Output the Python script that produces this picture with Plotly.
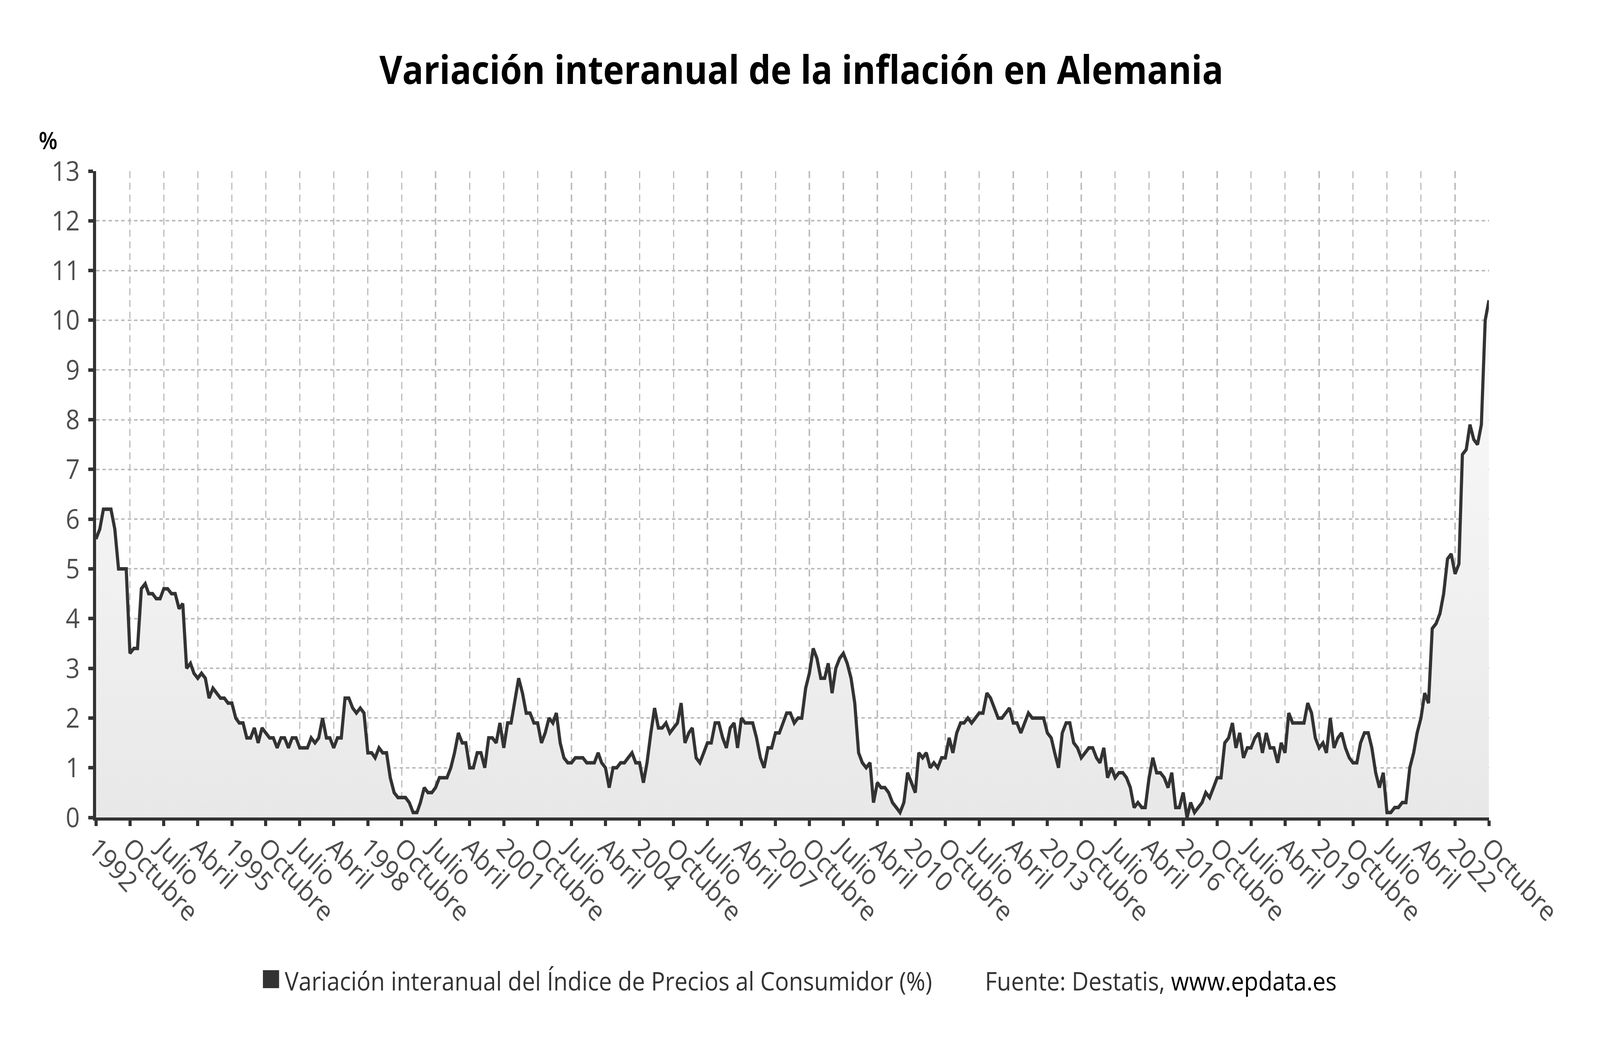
import pandas as pd
import plotly.graph_objects as go

# monthly year-on-year CPI change in Germany, Jan 1992 - Oct 2022 (%)
inflation = [
    5.6, 5.8, 6.2, 6.2, 6.2, 5.8, 5.0, 5.0, 5.0, 3.3, 3.4, 3.4,   # 1992
    4.6, 4.7, 4.5, 4.5, 4.4, 4.4, 4.6, 4.6, 4.5, 4.5, 4.2, 4.3,   # 1993
    3.0, 3.1, 2.9, 2.8, 2.9, 2.8, 2.4, 2.6, 2.5, 2.4, 2.4, 2.3,   # 1994
    2.3, 2.0, 1.9, 1.9, 1.6, 1.6, 1.8, 1.5, 1.8, 1.7, 1.6, 1.6,   # 1995
    1.4, 1.6, 1.6, 1.4, 1.6, 1.6, 1.4, 1.4, 1.4, 1.6, 1.5, 1.6,   # 1996
    2.0, 1.6, 1.6, 1.4, 1.6, 1.6, 2.4, 2.4, 2.2, 2.1, 2.2, 2.1,   # 1997
    1.3, 1.3, 1.2, 1.4, 1.3, 1.3, 0.8, 0.5, 0.4, 0.4, 0.4, 0.3,   # 1998
    0.1, 0.1, 0.3, 0.6, 0.5, 0.5, 0.6, 0.8, 0.8, 0.8, 1.0, 1.3,   # 1999
    1.7, 1.5, 1.5, 1.0, 1.0, 1.3, 1.3, 1.0, 1.6, 1.6, 1.5, 1.9,   # 2000
    1.4, 1.9, 1.9, 2.4, 2.8, 2.5, 2.1, 2.1, 1.9, 1.9, 1.5, 1.7,   # 2001
    2.0, 1.9, 2.1, 1.5, 1.2, 1.1, 1.1, 1.2, 1.2, 1.2, 1.1, 1.1,   # 2002
    1.1, 1.3, 1.1, 1.0, 0.6, 1.0, 1.0, 1.1, 1.1, 1.2, 1.3, 1.1,   # 2003
    1.1, 0.7, 1.1, 1.7, 2.2, 1.8, 1.8, 1.9, 1.7, 1.8, 1.9, 2.3,   # 2004
    1.5, 1.7, 1.8, 1.2, 1.1, 1.3, 1.5, 1.5, 1.9, 1.9, 1.6, 1.4,   # 2005
    1.8, 1.9, 1.4, 2.0, 1.9, 1.9, 1.9, 1.6, 1.2, 1.0, 1.4, 1.4,   # 2006
    1.7, 1.7, 1.9, 2.1, 2.1, 1.9, 2.0, 2.0, 2.6, 2.9, 3.4, 3.2,   # 2007
    2.8, 2.8, 3.1, 2.5, 3.0, 3.2, 3.3, 3.1, 2.8, 2.3, 1.3, 1.1,   # 2008
    1.0, 1.1, 0.3, 0.7, 0.6, 0.6, 0.5, 0.3, 0.2, 0.1, 0.3, 0.9,   # 2009
    0.7, 0.5, 1.3, 1.2, 1.3, 1.0, 1.1, 1.0, 1.2, 1.2, 1.6, 1.3,   # 2010
    1.7, 1.9, 1.9, 2.0, 1.9, 2.0, 2.1, 2.1, 2.5, 2.4, 2.2, 2.0,   # 2011
    2.0, 2.1, 2.2, 1.9, 1.9, 1.7, 1.9, 2.1, 2.0, 2.0, 2.0, 2.0,   # 2012
    1.7, 1.6, 1.3, 1.0, 1.7, 1.9, 1.9, 1.5, 1.4, 1.2, 1.3, 1.4,   # 2013
    1.4, 1.2, 1.1, 1.4, 0.8, 1.0, 0.8, 0.9, 0.9, 0.8, 0.6, 0.2,   # 2014
    0.3, 0.2, 0.2, 0.8, 1.2, 0.9, 0.9, 0.8, 0.6, 0.9, 0.2, 0.2,   # 2015
    0.5, 0.0, 0.3, 0.1, 0.2, 0.3, 0.5, 0.4, 0.6, 0.8, 0.8, 1.5,   # 2016
    1.6, 1.9, 1.4, 1.7, 1.2, 1.4, 1.4, 1.6, 1.7, 1.3, 1.7, 1.4,   # 2017
    1.4, 1.1, 1.5, 1.3, 2.1, 1.9, 1.9, 1.9, 1.9, 2.3, 2.1, 1.6,   # 2018
    1.4, 1.5, 1.3, 2.0, 1.4, 1.6, 1.7, 1.4, 1.2, 1.1, 1.1, 1.5,   # 2019
    1.7, 1.7, 1.4, 0.9, 0.6, 0.9, 0.1, 0.1, 0.2, 0.2, 0.3, 0.3,   # 2020
    1.0, 1.3, 1.7, 2.0, 2.5, 2.3, 3.8, 3.9, 4.1, 4.5, 5.2, 5.3,   # 2021
    4.9, 5.1, 7.3, 7.4, 7.9, 7.6, 7.5, 7.9, 10.0, 10.4,           # 2022
]
months = pd.date_range("1992-01-01", periods=len(inflation), freq="MS")

# axis ticks every 9 months
tick_dates = pd.date_range("1992-01-01", "2022-10-01", freq="9MS")
month_names = {4: "Abril", 7: "Julio", 10: "Octubre"}
tick_labels = [str(d.year) if d.month == 1 else month_names[d.month] for d in tick_dates]

title = "Variación interanual de la inflación en Alemania"
series_name = "Variación interanual del Índice de Precios al Consumidor (%)"
source = "Fuente: Destatis, <span style='color:#000'>www.epdata.es</span>"

W, H = 4552, 2673
L, R, T, B = 273, 4236, 438, 2093  # plot area in pixels


def px(x):
    return (x - L) / (R - L)


def py(y):
    return (B - y) / (B - T)


fig = go.Figure()
fig.add_trace(go.Scatter(
    x=months, y=inflation, mode="lines", name=series_name,
    line=dict(color="#333333", width=9),
    fill="tozeroy",
    fillgradient=dict(type="vertical", colorscale=[[0, "#e8e8e8"], [1, "#fbfbfb"]]),
    showlegend=False,
))

axis_common = dict(
    showline=True, linecolor="#333333", linewidth=8,
    ticks="outside", tickcolor="#333333", tickwidth=9,
    showgrid=True, gridcolor="#bdbdbd", gridwidth=4,
    zeroline=False,
)

fig.update_layout(
    width=W, height=H,
    margin=dict(l=L, r=W - R, t=T, b=H - B),
    paper_bgcolor="white", plot_bgcolor="white",
    font=dict(family="Open Sans", color="#444444"),
    title=dict(text="<b>" + title + "</b>", x=2280 / W, xanchor="center",
               y=1 - 180 / H, yanchor="middle",
               font=dict(family="Open Sans", size=100, color="#000000")),
    xaxis=dict(
        type="date", range=[months[0], months[-1]],
        tickvals=tick_dates, ticktext=tick_labels, tickangle=45,
        tickfont=dict(size=70, color="#4d4d4d"), ticklen=14,
        ticklabelstandoff=-14,
        griddash="18px,12px", **axis_common,
    ),
    yaxis=dict(
        range=[0, 13], dtick=1, tickfont=dict(size=70, color="#4d4d4d"),
        ticklen=14, ticklabelstandoff=10, griddash="10px,8px", **axis_common,
    ),
    showlegend=False,
)

# legend-like footer and unit label
fig.add_shape(type="rect", xref="paper", yref="paper",
              x0=px(748), x1=px(794), y0=py(2484), y1=py(2530),
              fillcolor="#333333", line=dict(width=0))
fig.add_annotation(text=series_name, xref="paper", yref="paper",
                   x=px(808), y=py(2510), xanchor="left", yanchor="middle",
                   showarrow=False, font=dict(size=66, color="#333333"))
fig.add_annotation(text=source, xref="paper", yref="paper",
                   x=px(2800), y=py(2510), xanchor="left", yanchor="middle",
                   showarrow=False, font=dict(size=66, color="#333333"))
fig.add_annotation(text="%", xref="paper", yref="paper",
                   x=px(137), y=py(358), xanchor="center", yanchor="middle",
                   showarrow=False, font=dict(size=62, color="#000000", weight=600))

# the browser viewport can be narrower than 4552px: stretch the figure to fill it
fit_js = (
    "var gd=document.getElementById('{plot_id}');"
    "var sx=window.innerWidth/%d, sy=window.innerHeight/%d;"
    "document.documentElement.style.overflow='hidden';"
    "document.body.style.margin='0';document.body.style.overflow='hidden';"
    "var p=gd.parentElement;p.style.overflow='hidden';"
    "p.style.width=window.innerWidth+'px';p.style.height=window.innerHeight+'px';"
    "gd.style.transformOrigin='0 0';gd.style.transform='scale('+sx+','+sy+')';" % (W, H)
)

fig.write_html("out.html", post_script=fit_js, config={"displayModeBar": False})
